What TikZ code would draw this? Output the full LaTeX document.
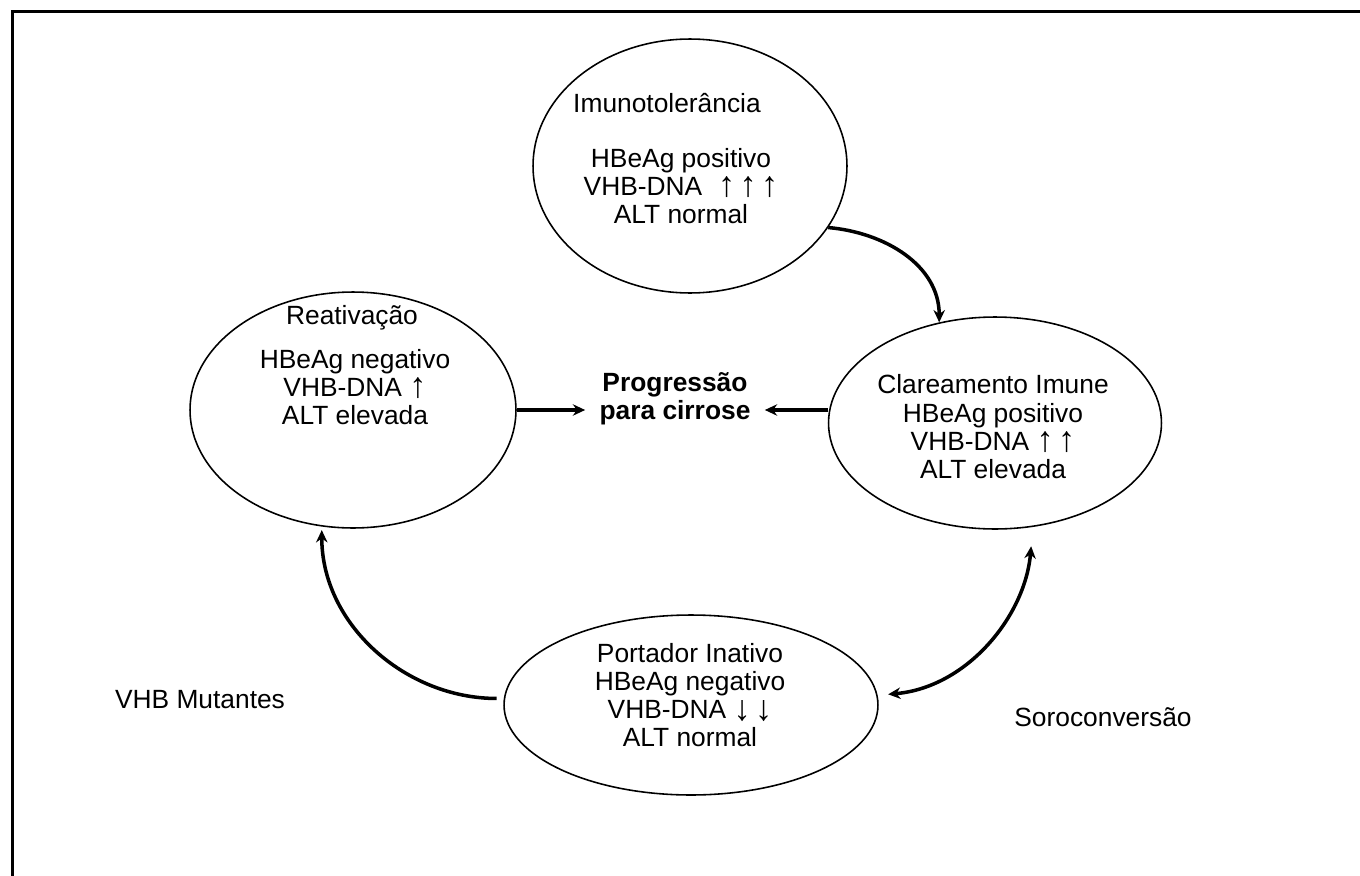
\documentclass[tikz,border=0pt]{standalone}
\usepackage{fontspec}
\usepackage{graphicx}
\setmainfont{Liberation Sans}
\usetikzlibrary{arrows.meta,shapes.geometric}

\newcommand{\upArr}{\smash{\raisebox{-0.04em}{\scalebox{1.3}[1.35]{↑}}}}
\newcommand{\downArr}{\smash{\raisebox{-0.08em}{\scalebox{1.3}[1.35]{↓}}}}

\begin{document}
\begin{tikzpicture}[x=0.02cm,y=-0.02cm,font=\fontsize{15}{16}\selectfont,
  phase/.style={draw,ellipse,line width=0.9pt,inner sep=0pt},
  txt/.style={align=center,inner sep=0pt},
  conn/.style={line width=2pt,-{Stealth[length=7pt,width=6.5pt]}},
  connBoth/.style={line width=2pt,{Stealth[length=7pt,width=6.5pt]}-{Stealth[length=7pt,width=6.5pt]}}]

\def\frameW{1.7pt}

\useasboundingbox (0,0) rectangle (1360,876);
\draw[line width=\frameW] (12.5,876) -- (12.5,11.5) -- (1360,11.5);

% the four phases
\node[phase, minimum width=6.28cm, minimum height=5.08cm] (imuno) at (690,166) {};
\node[phase, minimum width=6.52cm, minimum height=4.72cm] (reat) at (353,410) {};
\node[phase, minimum width=6.66cm, minimum height=4.24cm] (clar) at (995,423) {};
\node[phase, minimum width=7.48cm, minimum height=3.60cm] (port) at (691,705) {};

\node[txt] (imunoT) at (667,103) {Imunotolerância};
\node[txt] (imunoB) at (681,186) {HBeAg positivo\\VHB-DNA\hspace{0.6em}\upArr\,\upArr\,\upArr\\ALT normal};

\node[txt] (reatT) at (352,318) {Reativação};
\node[txt] (reatB) at (355,387) {HBeAg negativo\\VHB-DNA \upArr\\ALT elevada};

\node[txt] (clarT) at (993,384) {Clareamento Imune};
\node[txt] (clarB) at (993,441) {HBeAg positivo\\VHB-DNA \upArr\,\upArr\\ALT elevada};

\node[txt] (portT) at (690,653) {Portador Inativo};
\node[txt] (portB) at (690,709) {HBeAg negativo\\VHB-DNA \downArr\,\downArr\\ALT normal};

% centre and side labels
\node[align=center, inner xsep=8pt, inner ysep=0pt, font=\fontsize{15}{16}\selectfont\bfseries] (prog) at (675,399) {Progressão\\para cirrose};
\node[txt] (mutLbl) at (200,700) {VHB Mutantes};
\node[txt] (soroLbl) at (1103,717) {Soroconversão};

% connectors
\draw[conn] (imuno.-24) to[out=-5,in=90] (clar.119);
\draw[connBoth, shorten <=11pt, shorten >=6pt] (clar.-70) to[out=-95,in=5] (port.3);
\draw[conn, shorten <=4pt, shorten >=2pt] (port.178) to[out=180,in=-90] (reat.-105);
\draw[conn] (reat.east) -- (reat.east -| prog.west);
\draw[conn] (clar.west |- reat.east) -- (prog.east |- reat.east);

\end{tikzpicture}
\end{document}
